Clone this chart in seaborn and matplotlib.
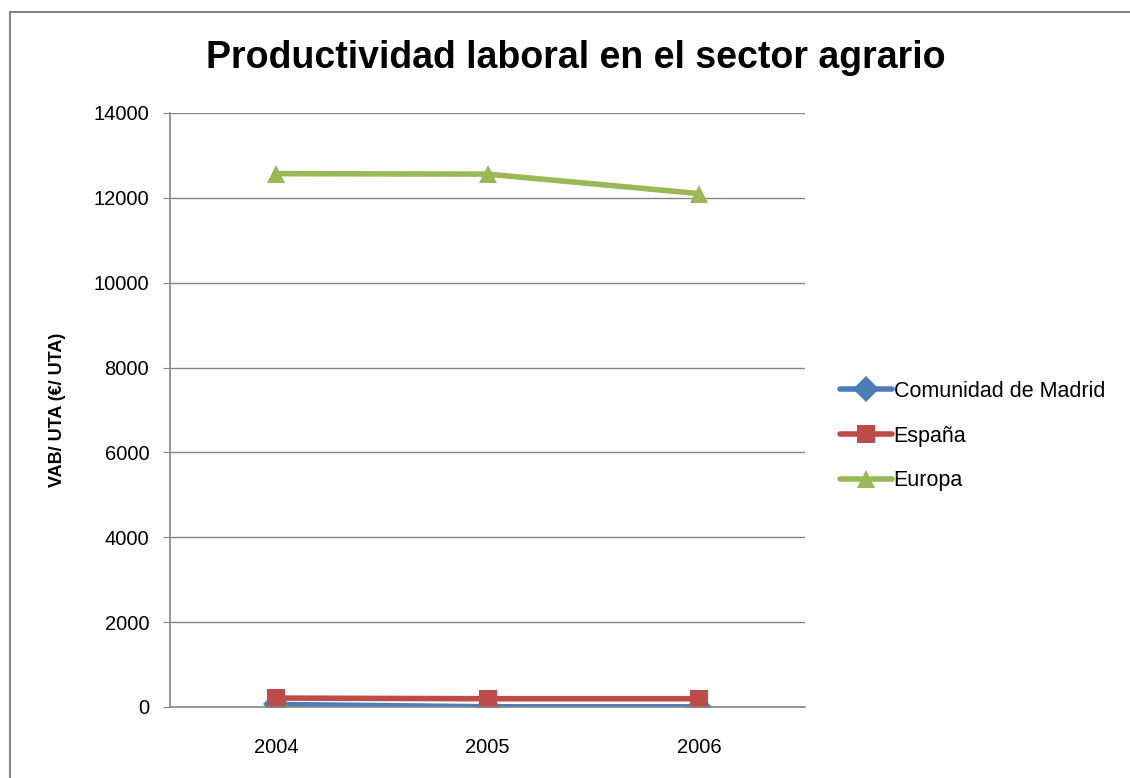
import pandas as pd
import seaborn as sns
import matplotlib.pyplot as plt
from matplotlib.patches import Rectangle

years = ['2004', '2005', '2006']
madrid = [60, 5, 5]
espana = [210, 195, 195]
europa = [12570, 12560, 12100]
series_names = ['Comunidad de Madrid', 'España', 'Europa']

df = pd.DataFrame({
    'year': years * 3,
    'value': madrid + espana + europa,
    'serie': [s for s in series_names for _ in years],
})

sns.set_style('white')
plt.rcParams['font.family'] = ['Liberation Sans', 'DejaVu Sans']
plt.rcParams['text.color'] = 'black'
plt.rcParams['axes.labelcolor'] = 'black'
plt.rcParams['xtick.color'] = 'black'
plt.rcParams['ytick.color'] = 'black'

palette = {'Comunidad de Madrid': '#4a7ebb', 'España': '#be4b48', 'Europa': '#98b954'}
markers = {'Comunidad de Madrid': 'D', 'España': 's', 'Europa': '^'}

fig = plt.figure(figsize=(11.3, 7.78), dpi=100)
ax = fig.add_axes([170 / 1130, 1 - 707 / 778, 635 / 1130, 594 / 778])

sns.lineplot(data=df, x='year', y='value', hue='serie', style='serie',
             palette=palette, markers=markers, dashes=False, linewidth=4,
             markersize=13, markeredgewidth=0, ax=ax)

ax.set_xlim(-0.5, 2.5)
ax.set_ylim(0, 14000)
ax.set_yticks(range(0, 14001, 2000))
ax.yaxis.grid(True, color='#868686', linewidth=1)
ax.set_axisbelow(True)
for side in ['top', 'right']:
    ax.spines[side].set_visible(False)
for side in ['left', 'bottom']:
    ax.spines[side].set_color('#868686')
    ax.spines[side].set_linewidth(1.2)
ax.tick_params(axis='both', labelsize=14.5, length=5, color='#868686', direction='out')
ax.tick_params(axis='x', length=0, pad=22)
ax.tick_params(axis='y', left=True, pad=10)
ax.set_xlabel('')
ax.set_ylabel('VAB/ UTA (€/ UTA)', fontsize=13, fontweight='bold', labelpad=20)

handles, labels = ax.get_legend_handles_labels()
ax.legend(handles, labels, loc='center left', bbox_to_anchor=(1.055, 0.456), frameon=False,
          fontsize=15.5, handlelength=2.4, handletextpad=0.1, labelspacing=1.1,
          borderaxespad=0, borderpad=0)

fig.text(576 / 1130, 1 - 58 / 778, 'Productividad laboral en el sector agrario',
         ha='center', va='center', fontsize=27, fontweight='bold')

fig.patches.append(Rectangle((10 / 1130, -0.1), 1.2, 1 - 12 / 778 + 0.1,
                             transform=fig.transFigure, fill=False,
                             edgecolor='#868686', linewidth=1.5))

fig.savefig('out.png', dpi=100)
